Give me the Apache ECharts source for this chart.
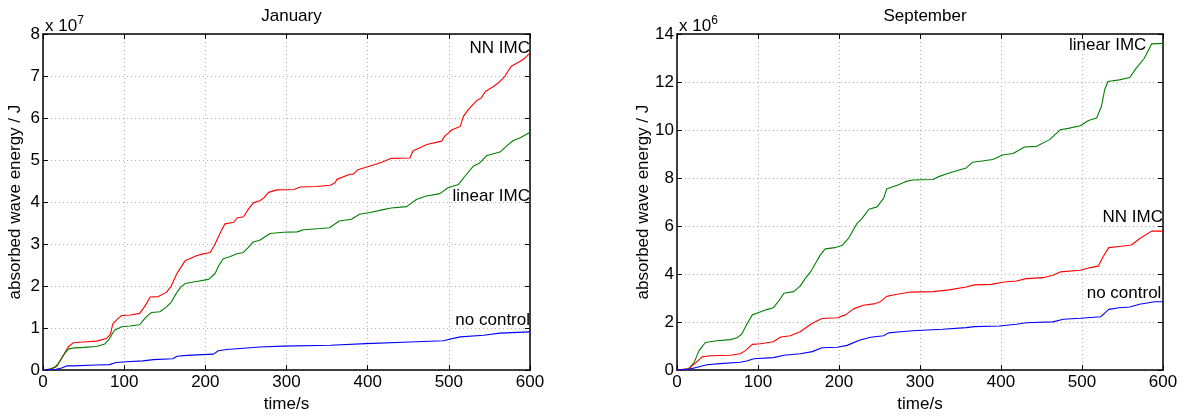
<!DOCTYPE html>
<html>
<head>
<meta charset="utf-8">
<script src="https://cdn.jsdelivr.net/npm/echarts@6/dist/echarts.min.js"></script>
<style>html,body{margin:0;padding:0;background:#fff;}#c{width:1190px;height:418px;}</style>
</head>
<body>
<div id="c"></div>
<script>
// ---- January (values in units of 1e7 J) ----
const janNN = [[0,0],[8,0.02],[15,0.06],[18,0.12],[22,0.25],[26,0.38],[31,0.55],[37,0.65],[50,0.67],[66,0.69],[78,0.75],[83,0.85],[86,1.1],[92,1.22],[97,1.3],[108,1.31],[119,1.35],[123,1.45],[128,1.6],[132,1.74],[142,1.75],[152,1.85],[158,2.0],[165,2.3],[170,2.45],[175,2.6],[182,2.66],[189,2.72],[196,2.76],[206,2.8],[212,3.0],[218,3.25],[224,3.48],[235,3.52],[239,3.62],[247,3.65],[252,3.8],[259,3.98],[267,4.03],[272,4.1],[278,4.23],[288,4.29],[309,4.3],[317,4.36],[337,4.37],[354,4.4],[360,4.46],[362,4.54],[378,4.66],[382,4.66],[388,4.77],[398,4.83],[410,4.9],[419,4.96],[429,5.04],[452,5.05],[456,5.22],[465,5.3],[473,5.37],[491,5.45],[495,5.57],[504,5.72],[514,5.8],[518,6.04],[524,6.2],[534,6.41],[540,6.48],[545,6.63],[555,6.75],[563,6.87],[569,6.99],[573,7.12],[577,7.23],[588,7.35],[594,7.43],[600,7.55]];
const janLinear = [[0,0],[10,0.03],[15,0.08],[18.5,0.15],[22,0.25],[25,0.35],[31,0.5],[39,0.53],[50,0.54],[66,0.56],[76,0.62],[82,0.75],[88,0.95],[97,1.03],[107,1.05],[119,1.08],[125,1.22],[130,1.32],[134,1.37],[144,1.39],[152,1.5],[158,1.62],[165,1.85],[170,1.98],[175,2.06],[189,2.11],[204,2.16],[212,2.3],[217,2.5],[222,2.65],[230,2.7],[239,2.77],[247,2.8],[253,2.92],[259,3.05],[267,3.09],[274,3.18],[280,3.25],[296,3.28],[313,3.29],[321,3.34],[342,3.37],[353,3.39],[365,3.55],[380,3.59],[390,3.71],[403,3.75],[419,3.82],[429,3.86],[448,3.89],[460,4.06],[471,4.14],[489,4.2],[499,4.34],[512,4.42],[520,4.62],[530,4.85],[538,4.93],[547,5.11],[563,5.19],[571,5.33],[579,5.46],[588,5.53],[600,5.66]];
const janNoControl = [[0,0],[16,0.02],[23,0.05],[29,0.1],[37,0.1],[66,0.12],[82,0.13],[90,0.18],[103,0.2],[123,0.22],[136,0.25],[160,0.27],[165,0.33],[177,0.35],[210,0.38],[216,0.46],[226,0.49],[247,0.52],[267,0.55],[296,0.57],[354,0.59],[398,0.63],[452,0.67],[493,0.7],[514,0.79],[543,0.83],[563,0.88],[600,0.91]];
// annotation anchors [text, time, value] (right end of text)
const janLabels = [['NN IMC',600,7.67],['linear IMC',600,4.13],['no control',600,1.19]];

// ---- September (values in units of 1e6 J) ----
const sepLinear = [[0,0],[14,0.05],[21,0.3],[27,0.8],[35,1.15],[49,1.22],[66,1.27],[74,1.35],[80,1.5],[86,1.9],[93,2.3],[101,2.4],[111,2.52],[119,2.6],[126,2.9],[132,3.2],[144,3.27],[152,3.5],[158,3.8],[165,4.1],[171,4.45],[177,4.8],[183,5.05],[195,5.1],[204,5.2],[212,5.5],[222,6.1],[228,6.3],[237,6.7],[247,6.8],[255,7.15],[259,7.55],[272,7.7],[282,7.85],[291,7.92],[316,7.94],[324,8.07],[336,8.21],[357,8.42],[365,8.66],[390,8.77],[402,8.96],[415,9.02],[429,9.29],[444,9.32],[460,9.6],[473,10.01],[483,10.07],[498,10.18],[508,10.4],[518,10.5],[524,10.98],[528,11.68],[532,12.02],[546,12.09],[559,12.19],[567,12.58],[577,12.99],[586,13.59],[600,13.61]];
const sepNN = [[0,0],[14,0.05],[23,0.3],[31,0.55],[41,0.6],[66,0.62],[78,0.68],[84,0.8],[93,1.07],[103,1.1],[119,1.18],[128,1.38],[140,1.43],[152,1.6],[167,1.95],[179,2.15],[198,2.18],[208,2.3],[218,2.55],[230,2.7],[245,2.77],[251,2.85],[259,3.07],[267,3.13],[288,3.25],[316,3.27],[336,3.34],[357,3.46],[367,3.55],[388,3.57],[404,3.67],[419,3.71],[431,3.81],[452,3.85],[464,3.95],[473,4.09],[498,4.16],[510,4.27],[520,4.33],[526,4.72],[533,5.1],[546,5.15],[561,5.21],[571,5.47],[586,5.79],[600,5.79]];
const sepNoControl = [[0,0],[14,0.03],[25,0.12],[37,0.22],[53,0.27],[78,0.33],[86,0.38],[95,0.47],[119,0.52],[132,0.62],[152,0.68],[167,0.77],[179,0.93],[198,0.95],[210,1.03],[226,1.25],[239,1.37],[255,1.43],[261,1.55],[276,1.6],[291,1.64],[328,1.7],[357,1.77],[367,1.81],[398,1.84],[419,1.91],[431,1.97],[464,2.01],[477,2.12],[498,2.16],[523,2.22],[533,2.53],[546,2.6],[559,2.63],[571,2.74],[590,2.85],[600,2.85]];
const sepLabels = [['linear IMC',579.5,13.54],['NN IMC',600,6.36],['no control',598,3.2]];

const titles = ['January','September'];
const yExponents = ['7','6'];
const yMax = [8, 14];
const yInterval = [1, 2];
const xMin = 0, xMax = 600, xInterval = 100;

const FONT = "'Liberation Sans', Arial, Helvetica, sans-serif";
const grids = [
  {left:43, top:34, width:487, height:337},
  {left:677, top:34, width:486, height:337}
];

function xAxisDef(gi, pos, labels) {
  return {
    type:'value', gridIndex:gi, position:pos, min:xMin, max:xMax, interval:xInterval,
    axisLine:{show:true, onZero:false, lineStyle:{color:'#000', width:1.5}},
    axisTick:{show:true, inside:true, length:5, lineStyle:{color:'#000'}},
    axisLabel:{show:labels, color:'#000', fontSize:17, fontFamily:FONT, margin:4},
    splitLine:{show:labels, lineStyle:{color:'#b0b0b0', type:[1,3], width:1}},
    name: labels ? 'time/s' : '', nameLocation:'middle', nameGap:21,
    nameTextStyle:{color:'#000', fontSize:17, fontFamily:FONT}
  };
}
function yAxisDef(gi, pos, labels) {
  return {
    type:'value', gridIndex:gi, position:pos, min:0, max:yMax[gi], interval:yInterval[gi],
    axisLine:{show:true, onZero:false, lineStyle:{color:'#000', width:1.5}},
    axisTick:{show:true, inside:true, length:5, lineStyle:{color:'#000'}},
    axisLabel:{show:labels, color:'#000', fontSize:17, fontFamily:FONT, margin:3},
    splitLine:{show:labels, lineStyle:{color:'#b0b0b0', type:[1,3], width:1}},
    name: labels ? '{b|x 10}{s|' + yExponents[gi] + '}' : '',
    nameLocation:'end', nameGap:-1,
    nameTextStyle:{align:'left', verticalAlign:'bottom', padding:[0,0,0,2], color:'#000', fontFamily:FONT,
      rich:{
        b:{fontSize:17, fontFamily:FONT, color:'#000', lineHeight:20, verticalAlign:'bottom'},
        s:{fontSize:12, fontFamily:FONT, color:'#000', lineHeight:12, verticalAlign:'top'}
      }}
  };
}
function yNameAxis(gi, gap) {
  return {
    type:'value', gridIndex:gi, position:'left', min:0, max:yMax[gi], show:true,
    axisLine:{show:false}, axisTick:{show:false}, axisLabel:{show:false}, splitLine:{show:false},
    name:'absorbed wave energy / J', nameLocation:'middle', nameRotate:90, nameGap:gap,
    nameTextStyle:{color:'#000', fontSize:17, fontFamily:FONT}
  };
}

function lineSeries(name, data, color, xi, yi, label) {
  const s = {
    name, type:'line', data, xAxisIndex:xi, yAxisIndex:yi, showSymbol:false, symbol:'none',
    lineStyle:{color, width:1.1}, itemStyle:{color}, animation:false, silent:true
  };
  if (label) {
    s.markPoint = {
      symbol:'circle', symbolSize:0, silent:true, animation:false,
      label:{show:true, position:'left', distance:0, color:'#000', fontSize:17, fontFamily:FONT,
             formatter: () => label[0]},
      data:[{coord:[label[1], label[2]]}]
    };
  }
  return s;
}
function findLabel(arr, text) { return arr.find(l => l[0] === text); }

const option = {
  backgroundColor:'#fff',
  animation:false,
  title: titles.map((t,i) => ({
    text:t, left: grids[i].left + grids[i].width/2, top:3, textAlign:'center',
    textStyle:{fontSize:17, fontWeight:'normal', color:'#000', fontFamily:FONT}
  })),
  grid: grids.map(g => Object.assign({containLabel:false}, g)),
  xAxis: [xAxisDef(0,'bottom',true), xAxisDef(1,'bottom',true), xAxisDef(0,'top',false), xAxisDef(1,'top',false)],
  yAxis: [yAxisDef(0,'left',true), yAxisDef(1,'left',true), yAxisDef(0,'right',false), yAxisDef(1,'right',false),
          yNameAxis(0,19), yNameAxis(1,25)],
  series: [
    lineSeries('NN IMC', janNN, '#ff0000', 0, 0, findLabel(janLabels,'NN IMC')),
    lineSeries('linear IMC', janLinear, '#008000', 0, 0, findLabel(janLabels,'linear IMC')),
    lineSeries('no control', janNoControl, '#0000ff', 0, 0, findLabel(janLabels,'no control')),
    lineSeries('linear IMC', sepLinear, '#008000', 1, 1, findLabel(sepLabels,'linear IMC')),
    lineSeries('NN IMC', sepNN, '#ff0000', 1, 1, findLabel(sepLabels,'NN IMC')),
    lineSeries('no control', sepNoControl, '#0000ff', 1, 1, findLabel(sepLabels,'no control'))
  ]
};
const chart = echarts.init(document.getElementById('c'), null, {renderer:'canvas'});
chart.setOption(option);
</script>
</body>
</html>
